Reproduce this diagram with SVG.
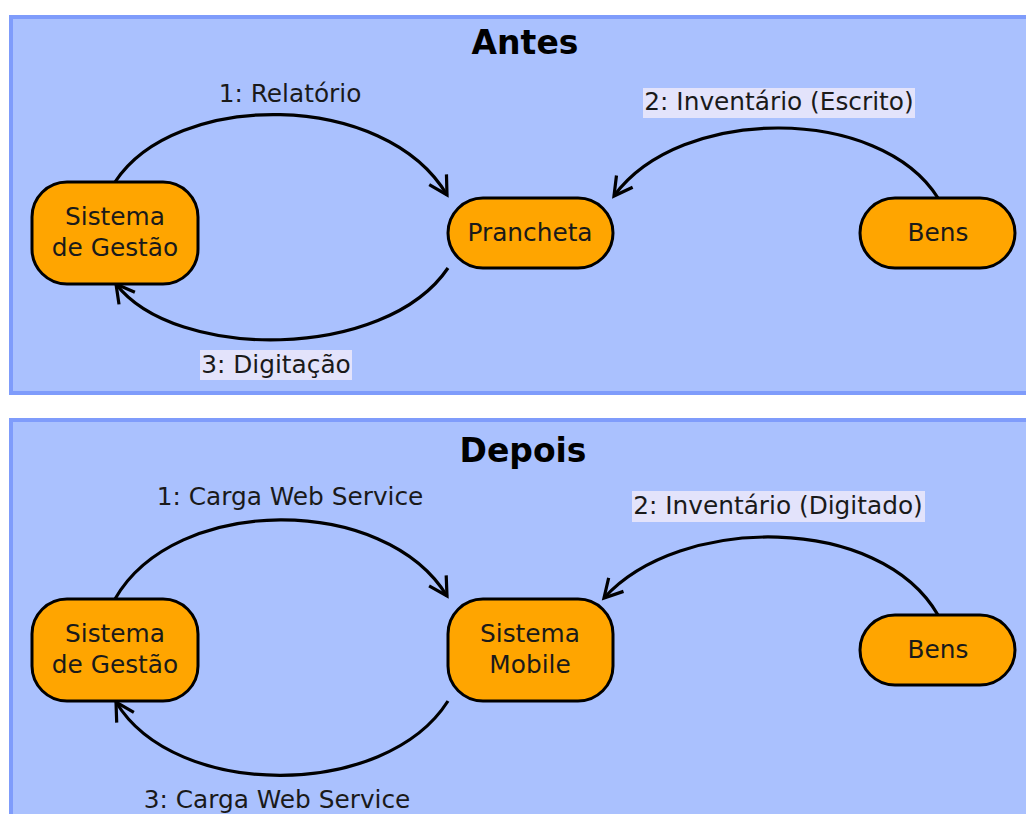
<svg xmlns="http://www.w3.org/2000/svg" width="1026" height="814" viewBox="0 0 1026 814">
  <style>
    .panel { fill: #aac1fe; stroke: #7f9cfb; stroke-width: 4; }
    .node rect { fill: #ffa500; stroke: #000; stroke-width: 3; }
    .node text, .lbl { font-family: "DejaVu Sans", "Liberation Sans", sans-serif; font-size: 24.8px; fill: #1a1a1a; text-anchor: middle; }
    .title { font-family: "DejaVu Sans", "Liberation Sans", sans-serif; font-size: 33px; font-weight: bold; fill: #000; text-anchor: middle; }
    .edge { fill: none; stroke: #000; stroke-width: 3.2; marker-end: url(#arrow); }
    .lblbg { fill: #e3e3fb; }
  </style>
  <defs>
    <marker id="arrow" markerUnits="userSpaceOnUse" markerWidth="40" markerHeight="40" viewBox="-25 -20 40 40" refX="0" refY="0" orient="auto" overflow="visible">
      <path d="M-18,-10 L0,0 L-18,10" fill="none" stroke="#000" stroke-width="3.2" stroke-linejoin="miter"/>
    </marker>
  </defs>

  <rect width="1026" height="814" fill="#fff"/>

  <!-- Panels -->
  <g id="panel-antes">
    <rect class="panel" x="11" y="17" width="1030" height="376"/>
    <text class="title" x="525" y="54">Antes</text>
  </g>
  <g id="panel-depois">
    <rect class="panel" x="11" y="420" width="1030" height="410"/>
    <text class="title" x="523" y="462">Depois</text>
  </g>

  <!-- Connectors -->
  <g id="connectors">
    <path class="edge" d="M115,182 C175,90 385,90 447,195"/>
    <path class="edge" d="M938,198 C880,105 680,105 614,196"/>
    <path class="edge" d="M448,268 C385,361 175,361 116,284"/>

    <path class="edge" d="M115,599 C175,494 385,494 447,596"/>
    <path class="edge" d="M938,615 C880,514 680,514 604,598"/>
    <path class="edge" d="M448,701 C385,800 175,800 116,702"/>

    <text class="lbl" x="290" y="102">1: Relatório</text>
    <rect class="lblbg" x="643" y="88" width="272" height="30"/>
    <text class="lbl" x="779" y="110">2: Inventário (Escrito)</text>
    <rect class="lblbg" x="200" y="350" width="152" height="30"/>
    <text class="lbl" x="276" y="373">3: Digitação</text>

    <text class="lbl" x="290" y="505">1: Carga Web Service</text>
    <rect class="lblbg" x="632" y="491" width="293" height="31"/>
    <text class="lbl" x="778" y="514">2: Inventário (Digitado)</text>
    <text class="lbl" x="277" y="808">3: Carga Web Service</text>
  </g>

  <!-- Nodes: before -->
  <g id="n-gestao-antes" class="node">
    <rect x="32" y="182" width="166" height="102" rx="35" ry="35"/>
    <text x="115" y="225">Sistema</text>
    <text x="115" y="256">de Gestão</text>
  </g>
  <g id="n-prancheta" class="node">
    <rect x="448" y="198" width="165" height="70" rx="35" ry="35"/>
    <text x="530" y="241">Prancheta</text>
  </g>
  <g id="n-bens-antes" class="node">
    <rect x="860" y="198" width="155" height="70" rx="35" ry="35"/>
    <text x="938" y="241">Bens</text>
  </g>

  <!-- Nodes: after -->
  <g id="n-gestao-depois" class="node">
    <rect x="32" y="599" width="166" height="102" rx="35" ry="35"/>
    <text x="115" y="642">Sistema</text>
    <text x="115" y="673">de Gestão</text>
  </g>
  <g id="n-mobile" class="node">
    <rect x="448" y="599" width="165" height="102" rx="35" ry="35"/>
    <text x="530" y="642">Sistema</text>
    <text x="530" y="673">Mobile</text>
  </g>
  <g id="n-bens-depois" class="node">
    <rect x="860" y="615" width="155" height="70" rx="35" ry="35"/>
    <text x="938" y="658">Bens</text>
  </g>
</svg>
